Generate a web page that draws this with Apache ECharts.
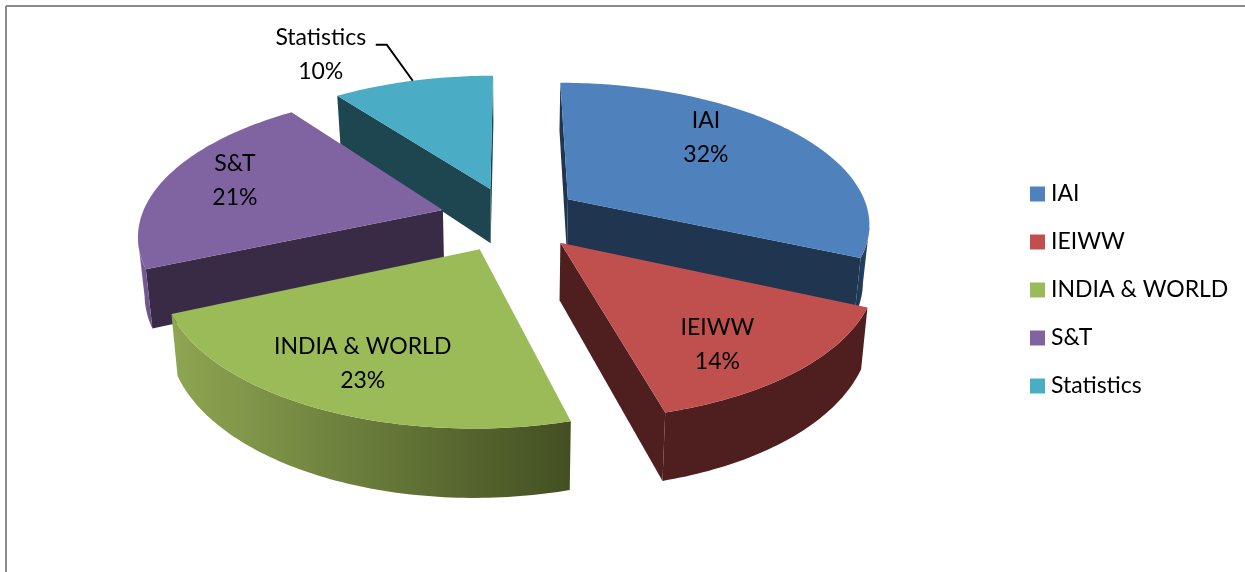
<!DOCTYPE html>
<html>
<head>
<meta charset="utf-8">
<style>html,body{margin:0;padding:0;background:#fff}#c{width:1245px;height:572px}</style>
<script src="https://cdn.jsdelivr.net/npm/echarts@6/dist/echarts.min.js"></script>
</head>
<body>
<div id="c"></div>
<script>
// data
const categories = ['IAI', 'IEIWW', 'INDIA & WORLD', 'S&T', 'Statistics'];
const shares = [31.7, 14.1, 22.6, 21.4, 10.2];
const percentLabels = ['32%', '14%', '23%', '21%', '10%'];

// styles
const faceColors = ['#4f81bd', '#c0504d', '#9bbb59', '#8064a2', '#4bacc6'];
const cutColors = ['#1f3550', '#4f1f1f', '#4f1f1f', '#392a45', '#1e4651'];
const rimColors = [['#1f3550', '#2a4568'], ['#4f1f1f', '#4f1f1f'], ['#8ea652', '#434f22'], ['#7b609c', '#6a5183'], ['#1e4651', '#1e4651']];
const paintOrder = [2, 3, 4, 1, 0];
const sliceNudges = [[-1, -2], [2, 0], [-3, 2], [-5, 0], [-2, 0]];
const labelOffsets = [[138, -62], [157, 102], [-117, 114], [-208, -29], null];
const calloutOffsets = { 4: { elbow: [-26, -36], tail: [-37, -36], text: [-92, -26] } };

// projection layout: perspective view of a unit pie
const cx = 513, cy = 218, scaleX = 302, scaleZ = 140, persp = 0.16, depth = 56, shrink = 0.018, explode = 0.225;
const fontName = 'Lato, "Open Sans", sans-serif';
const labelFont = '23px ' + fontName;

const total = shares.reduce((a, b) => a + b, 0);
const rad = d => d * Math.PI / 180;
function project(x, z, h, nudge) {
  const den = 1 - persp * z, sx = 1 - shrink * h;
  return [cx + nudge[0] + scaleX * x * sx / den, cy + nudge[1] + (scaleZ * z + depth * h) / den];
}
function faces(i, value) {
  const before = shares.slice(0, i).reduce((a, b) => a + b, 0);
  const a0 = before / total * 360, a1 = (before + value) / total * 360, mid = (a0 + a1) / 2;
  const ax = explode * Math.sin(rad(mid)), az = -explode * Math.cos(rad(mid));
  const n = sliceNudges[i];
  const pt = (deg, h) => project(ax + Math.sin(rad(deg)), az - Math.cos(rad(deg)), h, n);
  const camZ = 1 / persp;
  const rimVisible = deg => {
    const s = Math.sin(rad(deg)), c = Math.cos(rad(deg));
    const x = ax + s, z = az - c;
    return s * (0 - x) + (-c) * (camZ - z) > 0;
  };
  const wallVisible = (deg, sign) => {
    const nx = sign * Math.cos(rad(deg)), nz = sign * Math.sin(rad(deg));
    return nx * (0 - ax) + nz * (camZ - az) > 0;
  };
  const apexTop = project(ax, az, 0, n), apexBot = project(ax, az, 1, n);
  const top = [apexTop], rimTop = [], rimBot = [];
  const steps = Math.ceil(a1 - a0);
  for (let s = 0; s <= steps; s++) {
    const d = a0 + (a1 - a0) * s / steps;
    top.push(pt(d, 0));
    if (rimVisible(d)) { rimTop.push(pt(d, 0)); rimBot.unshift(pt(d, 1)); }
  }
  const walls = [];
  if (wallVisible(a0, -1)) walls.push([apexTop, pt(a0, 0), pt(a0, 1), apexBot]);
  if (wallVisible(a1, 1)) walls.push([apexTop, pt(a1, 0), pt(a1, 1), apexBot]);
  return { top, walls, rim: rimTop.concat(rimBot), apexTop, arcMid: pt(mid, 0) };
}
function renderSlice(i) {
  return function (params, api) {
    const f = faces(i, api.value(0));
    const children = [];
    f.walls.forEach(w => children.push({ type: 'polygon', shape: { points: w }, style: { fill: cutColors[i] } }));
    if (f.rim.length > 2) {
      children.push({
        type: 'polygon', shape: { points: f.rim },
        style: { fill: new echarts.graphic.LinearGradient(0, 0, 1, 0, [{ offset: 0, color: rimColors[i][0] }, { offset: 1, color: rimColors[i][1] }]) }
      });
    }
    children.push({ type: 'polygon', shape: { points: f.top }, style: { fill: faceColors[i] } });
    const text = categories[i] + '\n' + percentLabels[i];
    let lx, ly;
    if (calloutOffsets[i]) {
      const c = calloutOffsets[i], m = f.arcMid;
      children.push({
        type: 'polyline',
        shape: { points: [m, [m[0] + c.elbow[0], m[1] + c.elbow[1]], [m[0] + c.tail[0], m[1] + c.tail[1]]] },
        style: { stroke: '#000', lineWidth: 2, fill: null }
      });
      lx = m[0] + c.text[0]; ly = m[1] + c.text[1];
    } else {
      lx = f.apexTop[0] + labelOffsets[i][0]; ly = f.apexTop[1] + labelOffsets[i][1];
    }
    children.push({
      type: 'text', z2: 10,
      style: { text, x: lx, y: ly, align: 'center', verticalAlign: 'middle', fill: '#000', font: labelFont, lineHeight: 34 }
    });
    return { type: 'group', children };
  };
}
const chart = echarts.init(document.getElementById('c'), null, { renderer: 'canvas' });
chart.setOption({
  animation: false,
  backgroundColor: '#fff',
  legend: {
    data: categories, orient: 'vertical', left: 1025, top: 176, icon: 'rect',
    itemWidth: 15, itemHeight: 15, itemGap: 22, selectedMode: false,
    textStyle: { font: labelFont, fontFamily: fontName, fontSize: 23, color: '#000', padding: [0, 0, 0, 1], lineHeight: 26 }
  },
  graphic: [
    { type: 'line', shape: { x1: 6, y1: 6, x2: 1245, y2: 6 }, style: { stroke: '#8a8a8a', lineWidth: 2 } },
    { type: 'line', shape: { x1: 6, y1: 6, x2: 6, y2: 572 }, style: { stroke: '#8a8a8a', lineWidth: 2 } }
  ],
  series: categories.map((name, i) => ({
    type: 'custom', name, coordinateSystem: 'none', silent: true, z: paintOrder[i] + 2,
    itemStyle: { color: faceColors[i] },
    data: [[shares[i]]],
    renderItem: renderSlice(i)
  }))
});
</script>
</body>
</html>
